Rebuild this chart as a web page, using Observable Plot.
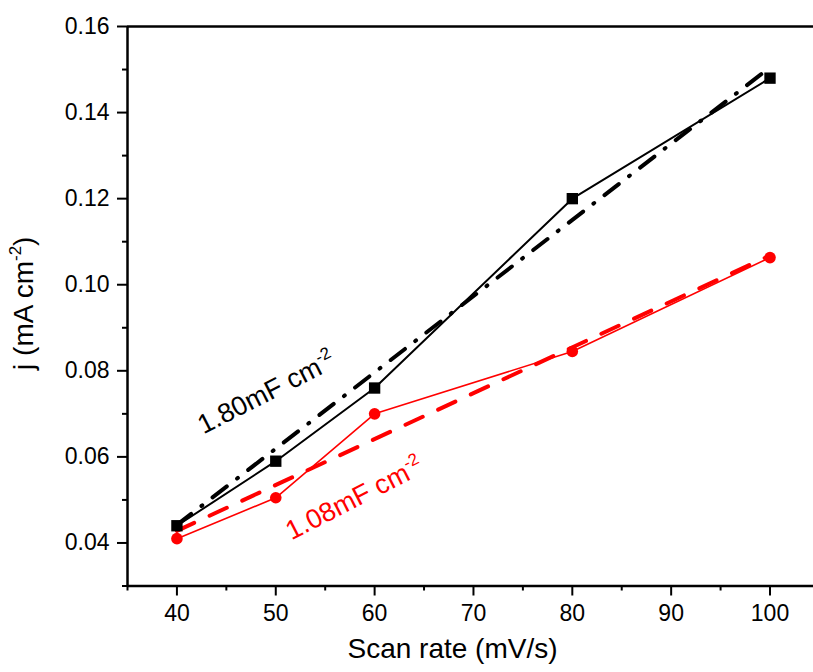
<!DOCTYPE html>
<html>
<head>
<meta charset="utf-8">
<script src="https://cdn.jsdelivr.net/npm/d3@7"></script>
<script src="https://cdn.jsdelivr.net/npm/@observablehq/plot@0.6"></script>
<style>
  html, body { margin: 0; padding: 0; background: white; overflow: hidden; }
</style>
</head>
<body>
<div id="chart"></div>
<script>
// ---- data ----
const scanRate = [40, 50, 60, 80, 100];
const jBlack = [0.044, 0.059, 0.076, 0.120, 0.148];
const jRed = [0.041, 0.0505, 0.070, 0.0845, 0.1063];
const fitX = [40, 100];
const fitBlack = [0.0442, 0.1505];
const fitRed = [0.0428, 0.1068];
const xTicks = [40, 50, 60, 70, 80, 90, 100];
const xMinor = [35, 45, 55, 65, 75, 85, 95];
const yTicks = [0.04, 0.06, 0.08, 0.10, 0.12, 0.14, 0.16];
const yMinor = [0.03, 0.05, 0.07, 0.09, 0.11, 0.13, 0.15];
const annoX = [49.05, 57.95];
const annoY = [0.0749, 0.0503];
const annoText = ["1.80mF cm", "1.08mF cm"];
const annoColor = ["black", "#ff0000"];
const xTitle = "Scan rate (mV/s)";
const yTitle = "j (mA cm";

const blackPts = scanRate.map((x, i) => ({x, y: jBlack[i]}));
const redPts = scanRate.map((x, i) => ({x, y: jRed[i]}));
const blackFit = fitX.map((x, i) => ({x, y: fitBlack[i]}));
const redFit = fitX.map((x, i) => ({x, y: fitRed[i]}));
const annos = annoText.map((t, i) => ({x: annoX[i], y: annoY[i], t, c: annoColor[i]}));

const fmt = d => d.toFixed(2);

const chart = Plot.plot({
  width: 813,
  height: 672,
  marginLeft: 127,
  marginRight: 0,
  marginTop: 26,
  marginBottom: 86.5,
  style: {fontFamily: "'Liberation Sans', Arial, sans-serif", background: "white", color: "black"},
  x: {domain: [35, 104.4], axis: null, label: null},
  y: {domain: [0.03, 0.16], axis: null, label: null},
  marks: [
    // frame
    Plot.ruleX([35], {stroke: "black", strokeWidth: 2.5}),
    Plot.ruleY([0.03], {stroke: "black", strokeWidth: 2.5}),
    Plot.ruleY([0.16], {stroke: "black", strokeWidth: 2.5}),
    // axes
    Plot.axisX(xTicks, {anchor: "bottom", tickSize: 10, tickPadding: 9, fontSize: 23, strokeWidth: 2, tickFormat: d => String(d), label: null}),
    Plot.axisX(xMinor, {anchor: "bottom", tickSize: 5, strokeWidth: 2, tickFormat: () => "", label: null}),
    Plot.axisY(yTicks, {anchor: "left", tickSize: 10, tickPadding: 8, fontSize: 23, strokeWidth: 2, tickFormat: fmt, label: null}),
    Plot.axisY(yMinor, {anchor: "left", tickSize: 5, strokeWidth: 2, tickFormat: () => "", label: null}),
    // fit lines
    Plot.line(blackFit, {x: "x", y: "y", stroke: "black", strokeWidth: 4, strokeDasharray: "18,13,1,13", strokeLinecap: "round"}),
    Plot.line(redFit, {x: "x", y: "y", stroke: "#ff0000", strokeWidth: 4, strokeDasharray: "19,17"}),
    // data lines
    Plot.line(redPts, {x: "x", y: "y", stroke: "#ff0000", strokeWidth: 1.6}),
    Plot.line(blackPts, {x: "x", y: "y", stroke: "black", strokeWidth: 2}),
    Plot.dot(redPts, {x: "x", y: "y", r: 5.8, fill: "#ff0000", stroke: "none"}),
    Plot.dot(blackPts, {x: "x", y: "y", r: 6.4, symbol: "square", fill: "black", stroke: "none"}),
    // annotations
    Plot.text(annos, {x: "x", y: "y", text: "t", fill: "c", rotate: -27, fontSize: 27, textAnchor: "middle"}),
    // axis titles
    Plot.text([xTitle], {text: d => d, frameAnchor: "bottom", textAnchor: "middle", dx: -18, dy: 71.5, fontSize: 28}),
    Plot.text([yTitle], {text: d => d, frameAnchor: "left", textAnchor: "middle", rotate: -90, dx: -103.5, dy: -3, fontSize: 28})
  ]
});

document.getElementById("chart").appendChild(chart);

// superscripts
d3.select(chart).selectAll("text").each(function() {
  const el = d3.select(this);
  const t = this.textContent;
  if (t === "1.80mF cm" || t === "1.08mF cm") {
    el.append("tspan").attr("dy", "-11").attr("font-size", "17px").text("-2");
  } else if (t === yTitle) {
    el.append("tspan").attr("dy", "-12").attr("font-size", "17px").text("-2");
    el.append("tspan").attr("dy", "12").attr("font-size", "28px").text(")");
  }
});
</script>
</body>
</html>
